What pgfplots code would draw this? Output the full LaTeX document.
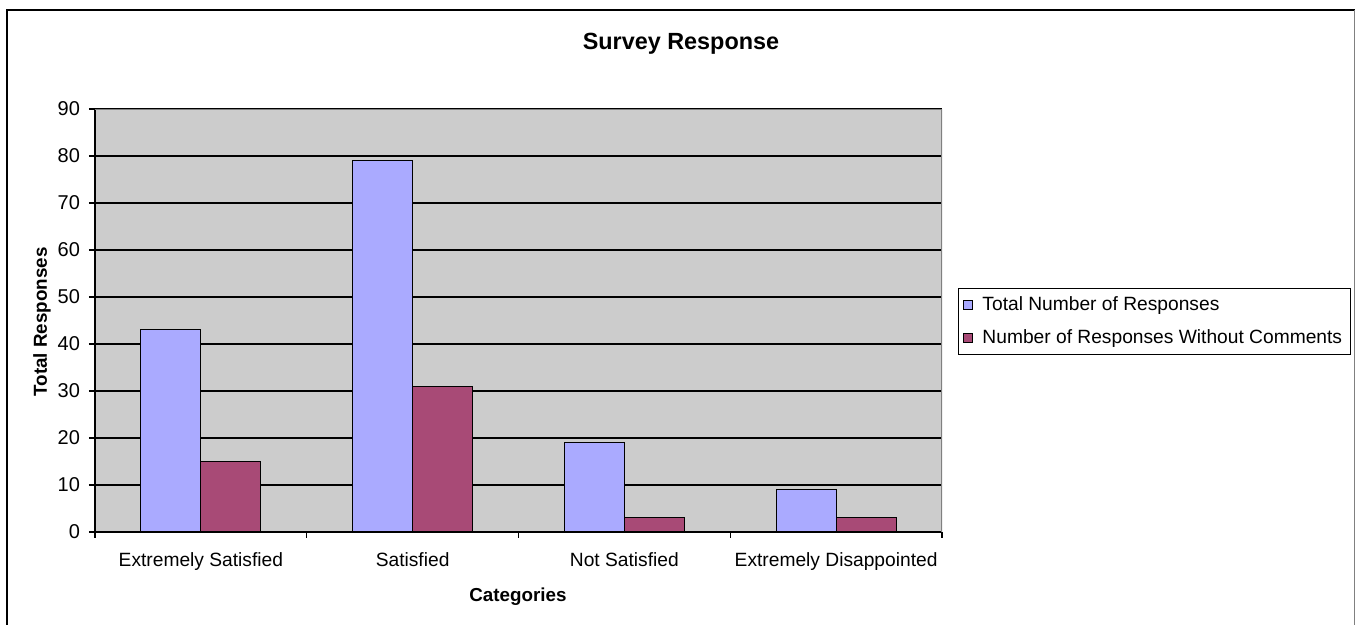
\documentclass[border=0pt]{standalone}
\usepackage{pgfplots}
\pgfplotsset{compat=1.18}
\usepackage{fontspec}
\setmainfont{Liberation Sans}

\definecolor{plotgray}{HTML}{CCCCCC}
\definecolor{barblue}{HTML}{AAAAFF}
\definecolor{barplum}{HTML}{A84A76}

\begin{document}
\begin{tikzpicture}
% page is 1356x625 px at 0.5pt per px
\path[use as bounding box] (0,0) rectangle (678pt,312.5pt);
\draw[line width=1pt] (3.5pt,0) -- (3.5pt,307.5pt) -- (677.3pt,307.5pt);
\draw[gray, line width=0.6pt] (677.3pt,307.5pt) -- (677.3pt,0);

\begin{axis}[
  at={(47.5pt,46.5pt)}, anchor=south west,
  scale only axis, width=423.5pt, height=211.5pt,
  xmin=-0.5, xmax=3.5, ymin=0, ymax=90,
  axis x line*=bottom, axis y line*=left,
  axis line style={-, black, line width=0.7pt},
  axis background/.style={fill=plotgray},
  ytick={0,10,...,90},
  ymajorgrids, grid style={black, line width=0.6pt},
  xtick={0,1,2,3},
  xticklabels={Extremely Satisfied, Satisfied, Not Satisfied, Extremely Disappointed},
  major x tick style={draw=none},
  minor xtick={-0.5,0.5,1.5,2.5,3.5},
  tick align=outside,
  tick style={black, line width=0.6pt},
  major tick length=3pt, minor tick length=3pt,
  ticklabel style={font=\fontsize{9.6}{11}\selectfont},
  xticklabel style={yshift=-4pt},
  yticklabel style={xshift=-1pt, font=\fontsize{10}{11}\selectfont},
  /pgf/number format/assume math mode=true,
  ybar, bar width=0.283,
  legend style={at={(1.019,0.498)}, anchor=west, draw=black, line width=0.5pt,
    font=\fontsize{9.6}{11}\selectfont, row sep=4pt, inner sep=2pt},
  legend cell align=left,
  legend image code/.code={\draw[#1, draw=black, line width=0.4pt] (0pt,-2.25pt) rectangle (4.5pt,2.25pt); \path (7.5pt,0pt);},
]
\addplot[fill=barblue, draw=black, line width=0.5pt, bar shift=-0.1415]
  coordinates {(0,43) (1,79) (2,19) (3,9)};
\addlegendentry{Total Number of Responses}
\addplot[fill=barplum, draw=black, line width=0.5pt, bar shift=0.1415]
  coordinates {(0,15) (1,31) (2,3) (3,3)};
\addlegendentry{Number of Responses Without Comments}
\draw[gray, line width=0.6pt] (rel axis cs:0,1) -- (rel axis cs:1,1) -- (rel axis cs:1,0);
\end{axis}

\node[font=\bfseries\fontsize{11.7}{14}\selectfont] at (340.5pt,290.5pt) {Survey Response};
\node[font=\bfseries\fontsize{9.4}{11}\selectfont] at (259pt,14pt) {Categories};
\node[font=\bfseries\fontsize{9.4}{11}\selectfont, rotate=90] at (21pt,151.5pt) {Total Responses};
\end{tikzpicture}
\end{document}
